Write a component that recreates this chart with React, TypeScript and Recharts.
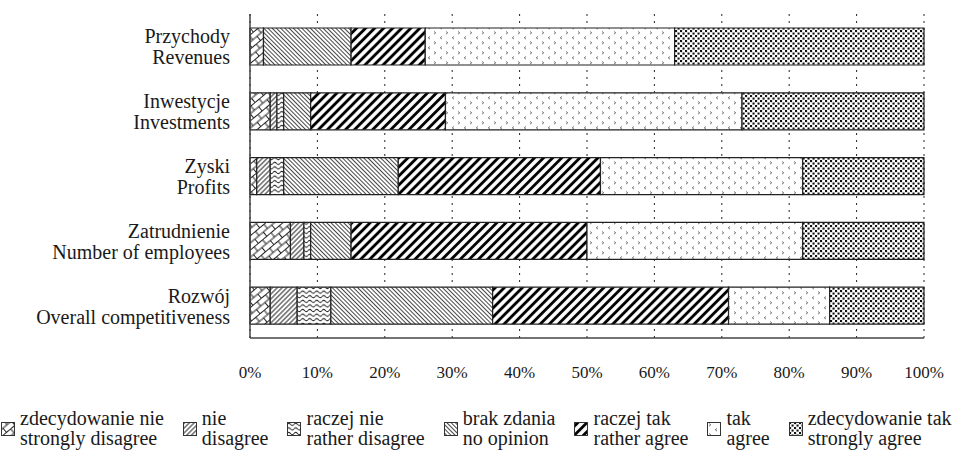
import { Bar, BarChart, CartesianGrid, XAxis, YAxis } from 'recharts'

const CATEGORIES_PL = ['Przychody', 'Inwestycje', 'Zyski', 'Zatrudnienie', 'Rozwój']
const CATEGORIES_EN = ['Revenues', 'Investments', 'Profits', 'Number of employees', 'Overall competitiveness']

// shares in %, one value per category
const STRONGLY_DISAGREE = [2, 3, 1, 6, 3]
const DISAGREE = [0, 1, 2, 2, 4]
const RATHER_DISAGREE = [0, 1, 2, 1, 5]
const NO_OPINION = [13, 4, 17, 6, 24]
const RATHER_AGREE = [11, 20, 30, 35, 35]
const AGREE = [37, 44, 30, 32, 15]
const STRONGLY_AGREE = [37, 27, 18, 18, 14]

const SERIES_KEYS = ['sd', 'd', 'rd', 'no', 'ra', 'a', 'sa']
const SERIES_PL = ['zdecydowanie nie', 'nie', 'raczej nie', 'brak zdania', 'raczej tak', 'tak', 'zdecydowanie tak']
const SERIES_EN = ['strongly disagree', 'disagree', 'rather disagree', 'no opinion', 'rather agree', 'agree', 'strongly agree']
const SERIES_VALUES = [STRONGLY_DISAGREE, DISAGREE, RATHER_DISAGREE, NO_OPINION, RATHER_AGREE, AGREE, STRONGLY_AGREE]

const X_TICKS = [0, 10, 20, 30, 40, 50, 60, 70, 80, 90, 100]

const DATA = CATEGORIES_PL.map((name, i) => {
  const row: Record<string, string | number> = { name }
  SERIES_KEYS.forEach((k, s) => {
    row[k] = SERIES_VALUES[s][i]
  })
  return row
})

// no serif face is installed in the sandbox, so stay with a plain sans
const FONT = "'Liberation Serif', 'Liberation Sans', sans-serif"
const INK = '#1a1a1a'

function Patterns() {
  return (
    <svg width={0} height={0} style={{ position: 'absolute' }}>
      <defs>
        <pattern id="pat-sd" width="11" height="11" patternUnits="userSpaceOnUse" patternTransform="rotate(-40)">
          <rect width="11" height="11" fill="#fff" />
          <path d="M0 0.5H11M0 6H11M3 0.5V6M8.5 6V11.5" stroke="#222" strokeWidth="1" fill="none" />
        </pattern>
        <pattern id="pat-d" width="3.4" height="3.4" patternUnits="userSpaceOnUse" patternTransform="rotate(45)">
          <rect width="3.4" height="3.4" fill="#fff" />
          <line x1="1.7" y1="0" x2="1.7" y2="3.4" stroke="#222" strokeWidth="1" />
        </pattern>
        <pattern id="pat-rd" width="7" height="4.6" patternUnits="userSpaceOnUse">
          <rect width="7" height="4.6" fill="#fff" />
          <path d="M0 2.3 Q1.75 0.3 3.5 2.3 T7 2.3" stroke="#222" strokeWidth="1" fill="none" />
        </pattern>
        <pattern id="pat-no" width="3" height="3" patternUnits="userSpaceOnUse" patternTransform="rotate(-45)">
          <rect width="3" height="3" fill="#fff" />
          <line x1="1.5" y1="0" x2="1.5" y2="3" stroke="#333" strokeWidth="0.9" />
        </pattern>
        <pattern id="pat-ra" width="6.4" height="6.4" patternUnits="userSpaceOnUse" patternTransform="rotate(45)">
          <rect width="6.4" height="6.4" fill="#fff" />
          <line x1="3.2" y1="0" x2="3.2" y2="6.4" stroke="#000" strokeWidth="2.9" />
        </pattern>
        <pattern id="pat-a" width="12" height="10" patternUnits="userSpaceOnUse">
          <rect width="12" height="10" fill="#fff" />
          <path d="M2 1.5L3.8 2.8L2 4.1M10 6.5L8.2 7.8L10 9.1" stroke="#666" strokeWidth="0.9" fill="none" />
        </pattern>
        <pattern id="pat-sa" width="5" height="5" patternUnits="userSpaceOnUse">
          <rect width="5" height="5" fill="#fff" />
          <rect x="0" y="0" width="2.1" height="2.1" fill="#111" />
          <rect x="2.5" y="2.5" width="2.1" height="2.1" fill="#111" />
        </pattern>
      </defs>
    </svg>
  )
}

function CategoryTick({ x, y, payload }: { x?: number; y?: number; payload?: { value: string } }) {
  const name = payload?.value ?? ''
  const en = CATEGORIES_EN[CATEGORIES_PL.indexOf(name)]
  const tx = (x ?? 0) - 20
  const ty = y ?? 0
  return (
    <text textAnchor="end" style={{ fontFamily: FONT }} fontSize={20} fill={INK}>
      <tspan x={tx} y={ty - 3}>{name}</tspan>
      <tspan x={tx} y={ty + 18}>{en}</tspan>
    </text>
  )
}

function PercentTick({ x, y, payload }: { x?: number; y?: number; payload?: { value: number } }) {
  return (
    <text x={x} y={(y ?? 0) + 40} textAnchor="middle" style={{ fontFamily: FONT }} fontSize={17} fill={INK}>
      {payload?.value}%
    </text>
  )
}

function ChartLegend() {
  return (
    <div
      style={{
        position: 'absolute',
        left: 1,
        top: 408,
        display: 'flex',
        gap: 19,
        fontFamily: FONT,
        fontSize: 20,
        lineHeight: '20px',
        color: INK,
        whiteSpace: 'nowrap',
      }}
    >
      {SERIES_KEYS.map((k, i) => (
        <div key={k} style={{ display: 'flex', alignItems: 'center' }}>
          <svg width={14} height={14} style={{ marginRight: 5, marginTop: 2, flex: 'none' }}>
            <rect x={0.5} y={0.5} width={13} height={13} fill={`url(#pat-${k})`} stroke="#333" strokeWidth={1} />
          </svg>
          <div>
            <div>{SERIES_PL[i]}</div>
            <div>{SERIES_EN[i]}</div>
          </div>
        </div>
      ))}
    </div>
  )
}

export default function App() {
  return (
    <div style={{ position: 'absolute', left: 0, top: 0, width: 966, height: 452, background: '#fff', fontFamily: FONT }}>
      <Patterns />
      <BarChart
        width={966}
        height={400}
        data={DATA}
        layout="vertical"
        margin={{ top: 14, right: 42, bottom: 0, left: 0 }}
        barSize={37}
      >
        <CartesianGrid horizontal={false} stroke="#222" strokeDasharray="2 5" />
        <XAxis
          type="number"
          domain={[0, 100]}
          ticks={X_TICKS}
          interval={0}
          height={62}
          tickLine={false}
          tickSize={0}
          tickMargin={0}
          axisLine={{ stroke: '#444', strokeWidth: 1.5 }}
          tick={<PercentTick />}
        />
        <YAxis
          type="category"
          dataKey="name"
          width={250}
          tickLine={false}
          tickSize={0}
          tickMargin={0}
          interval={0}
          axisLine={{ stroke: '#444', strokeWidth: 1.5 }}
          tick={<CategoryTick />}
        />
        {SERIES_KEYS.map((k) => (
          <Bar
            key={k}
            dataKey={k}
            stackId="all"
            fill={`url(#pat-${k})`}
            stroke="#222"
            strokeWidth={1.2}
            isAnimationActive={false}
          />
        ))}
      </BarChart>
      <ChartLegend />
    </div>
  )
}
